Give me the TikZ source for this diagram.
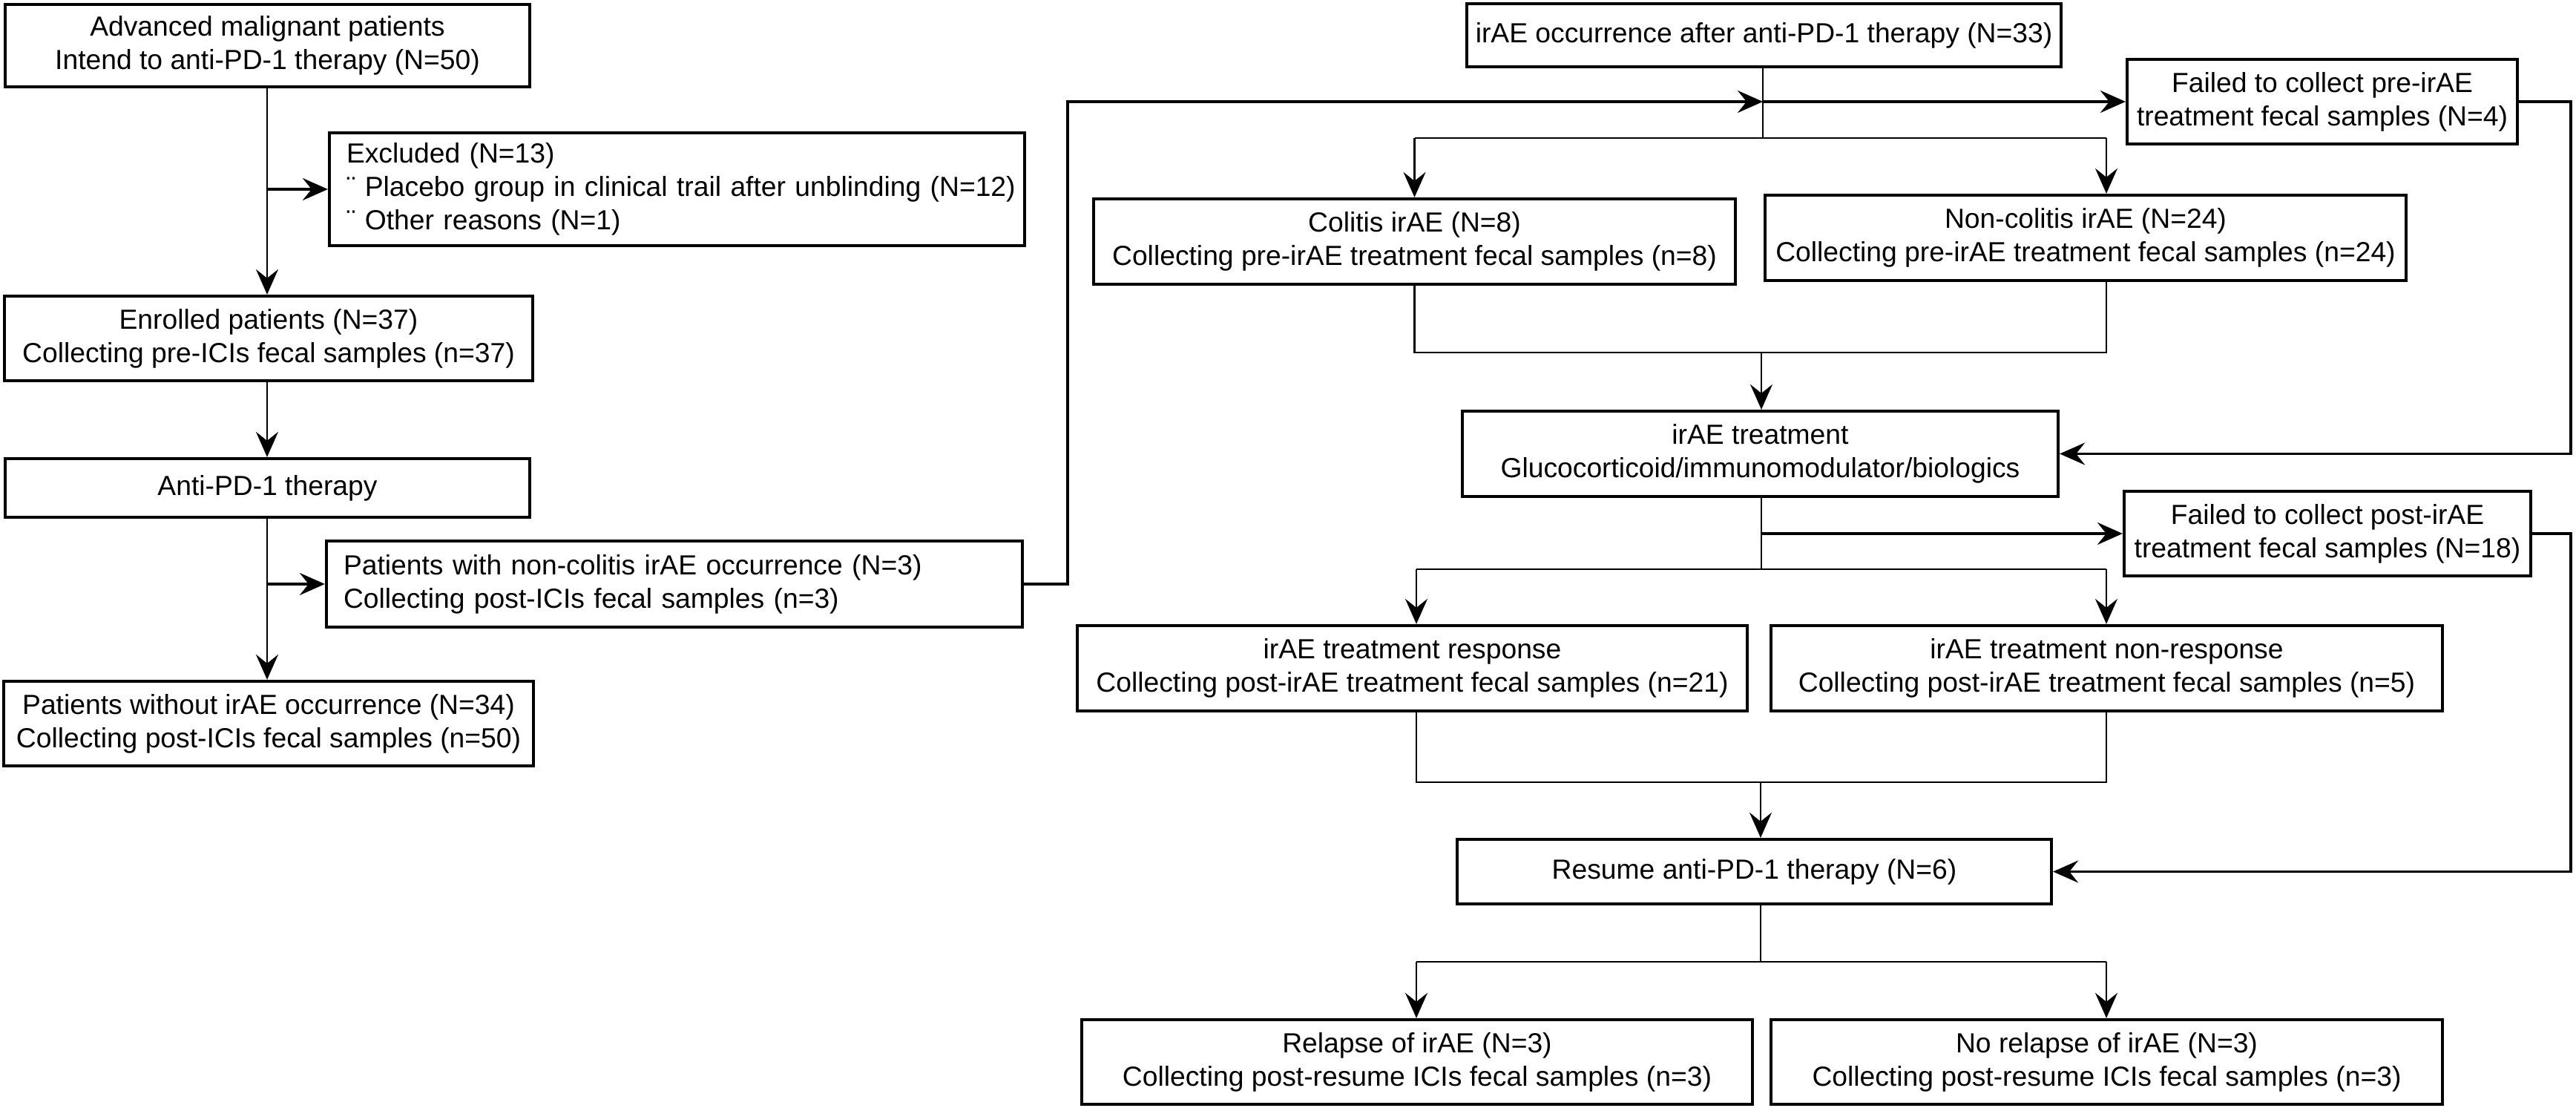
\documentclass[tikz,border=0pt]{standalone}
\usepackage{fontspec}
\setmainfont{Liberation Sans}
\usetikzlibrary{arrows.meta}
\begin{document}
\begin{tikzpicture}[x=1cm,y=-1cm,
  box/.style={draw,line width=1.2pt,align=center,inner xsep=0.1cm,inner ysep=0pt,font=\fontsize{10.6pt}{12.8pt}\selectfont},
  lbox/.style={box,align=left,inner xsep=0.23cm},
  conn/.style={line width=0.75pt},
  arr/.style={conn,-{Stealth[length=3.4mm,width=3mm,inset=1.2mm]}},
  tarr/.style={line width=1.1pt,-{Stealth[length=3.4mm,width=3mm,inset=1.2mm]}}]
\useasboundingbox (0,0) rectangle (34.72,14.93);
% left column
\node[box,minimum width=7.07cm,minimum height=1.11cm] (A) at (3.605,0.615) {Advanced malignant patients\\Intend to anti-PD-1 therapy (N=50)};
\node[lbox,text width=8.91cm,minimum height=1.52cm] (E) at (9.125,2.55) {\mbox{Excluded (N=13)}\\\mbox{¨ Placebo group in clinical trail after unblinding (N=12)}\\\mbox{¨ Other reasons (N=1)}};
\node[box,minimum width=7.12cm,minimum height=1.14cm] (B) at (3.62,4.56) {Enrolled patients (N=37)\\Collecting pre-ICIs fecal samples (n=37)};
\node[box,minimum width=7.07cm,minimum height=0.79cm] (C) at (3.605,6.575) {Anti-PD-1 therapy};
\node[lbox,text width=8.92cm,minimum height=1.16cm] (D) at (9.09,7.87) {Patients with non-colitis irAE occurrence (N=3)\\Collecting post-ICIs fecal samples (n=3)};
\node[box,minimum width=7.14cm,minimum height=1.14cm] (F) at (3.62,9.75) {Patients without irAE occurrence (N=34)\\Collecting post-ICIs fecal samples (n=50)};
% right part
\node[box,minimum width=8.01cm,minimum height=0.85cm] (O) at (23.775,0.475) {irAE occurrence after anti-PD-1 therapy (N=33)};
\node[box,minimum width=5.26cm,minimum height=1.14cm] (FP) at (31.30,1.37) {Failed to collect pre-irAE\\treatment fecal samples (N=4)};
\node[box,minimum width=8.65cm,minimum height=1.15cm] (Col) at (19.065,3.255) {Colitis irAE (N=8)\\Collecting pre-irAE treatment fecal samples (n=8)};
\node[box,minimum width=8.64cm,minimum height=1.15cm] (NC) at (28.11,3.205) {Non-colitis irAE (N=24)\\Collecting pre-irAE treatment fecal samples (n=24)};
\node[box,minimum width=8.03cm,minimum height=1.15cm] (T) at (23.725,6.115) {irAE treatment\\Glucocorticoid/immunomodulator/biologics};
\node[box,minimum width=5.48cm,minimum height=1.14cm] (FQ) at (31.37,7.19) {Failed to collect post-irAE\\treatment fecal samples (N=18)};
\node[box,minimum width=9.03cm,minimum height=1.15cm] (Rs) at (19.035,9.005) {irAE treatment response\\Collecting post-irAE treatment fecal samples (n=21)};
\node[box,minimum width=9.05cm,minimum height=1.15cm] (NR) at (28.395,9.005) {irAE treatment non-response\\Collecting post-irAE treatment fecal samples (n=5)};
\node[box,minimum width=8.01cm,minimum height=0.87cm] (Re) at (23.645,11.745) {Resume anti-PD-1 therapy (N=6)};
\node[box,minimum width=9.04cm,minimum height=1.14cm] (Rl) at (19.10,14.31) {Relapse of irAE (N=3)\\Collecting post-resume ICIs fecal samples (n=3)};
\node[box,minimum width=9.05cm,minimum height=1.14cm] (NRl) at (28.395,14.31) {No relapse of irAE (N=3)\\Collecting post-resume ICIs fecal samples (n=3)};
% junction coordinates
\coordinate (jA) at (3.6,2.55);
\coordinate (jC) at (3.6,7.87);
\coordinate (lp) at (14.39,1.37);
\coordinate (jo) at (23.76,1.37);
\coordinate (b1c) at (23.76,1.86);
\coordinate (b1l) at (19.065,1.86);
\coordinate (b1r) at (28.39,1.86);
\coordinate (m1l) at (19.065,4.75);
\coordinate (m1r) at (28.39,4.75);
\coordinate (m1c) at (23.74,4.75);
\coordinate (rr1) at (34.65,1.37);
\coordinate (jT) at (23.74,7.19);
\coordinate (b2c) at (23.74,7.67);
\coordinate (b2l) at (19.09,7.67);
\coordinate (b2r) at (28.39,7.67);
\coordinate (rr2) at (34.65,7.19);
\coordinate (m2l) at (19.09,10.54);
\coordinate (m2r) at (28.39,10.54);
\coordinate (m2c) at (23.73,10.54);
\coordinate (b3c) at (23.73,12.96);
\coordinate (b3l) at (19.09,12.96);
\coordinate (b3r) at (28.39,12.96);
% left connectors
\draw[arr] (A.south -| jA) -- (B.north -| jA);
\draw[tarr] (jA) -- (E.west);
\draw[arr] (B.south -| jA) -- (C.north -| jA);
\draw[arr] (C.south -| jA) -- (F.north -| jA);
\draw[tarr] (jC) -- (D.west);
\draw[tarr] (D.east) -| (lp) -- (jo);
% right connectors
\draw[conn] (O.south -| jo) -- (b1c);
\draw[tarr] (jo) -- (FP.west);
\draw[conn] (b1l) -- (b1r);
\draw[arr] (b1l) -- (Col.north -| b1l);
\draw[arr] (b1r) -- (NC.north -| b1r);
\draw[conn] (Col.south -| m1l) -- (m1l) -- (m1r) -- (NC.south -| m1r);
\draw[arr] (m1c) -- (T.north -| m1c);
\draw[tarr] (FP.east) -- (rr1) |- (T.east);
\draw[conn] (T.south -| b2c) -- (b2c);
\draw[tarr] (jT) -- (FQ.west);
\draw[conn] (b2l) -- (b2r);
\draw[arr] (b2l) -- (Rs.north -| b2l);
\draw[arr] (b2r) -- (NR.north -| b2r);
\draw[conn] (Rs.south -| m2l) -- (m2l) -- (m2r) -- (NR.south -| m2r);
\draw[arr] (m2c) -- (Re.north -| m2c);
\draw[tarr] (FQ.east) -- (rr2) |- (Re.east);
\draw[conn] (Re.south -| b3c) -- (b3c);
\draw[conn] (b3l) -- (b3r);
\draw[arr] (b3l) -- (Rl.north -| b3l);
\draw[arr] (b3r) -- (NRl.north -| b3r);
\end{tikzpicture}
\end{document}
